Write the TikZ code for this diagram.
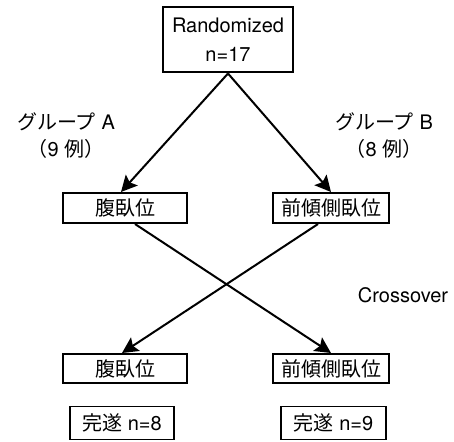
\documentclass[tikz,border=0pt]{standalone}
\usepackage{fontspec}
\setmainfont{TeX Gyre Heros}
\newfontfamily\jp{Noto Sans CJK JP}
\usetikzlibrary{arrows.meta}
\begin{document}
\begin{tikzpicture}[x=1pt,y=-1pt,
  box/.style={draw, line width=2pt, inner sep=0pt, align=center,
    font=\fontsize{20}{29}\selectfont},
  donebox/.style={draw, line width=1.5pt, inner sep=0pt, align=center,
    font=\fontsize{20}{29}\selectfont},
  lbl/.style={inner sep=0pt, align=center, font=\fontsize{20}{27}\selectfont},
  arr/.style={line width=2pt, -{Stealth[length=16pt,width=16pt,inset=3pt]}}]
\useasboundingbox (0,0) rectangle (454,441);
\node[box, minimum width=130pt, minimum height=65pt] (top) at (228,40) {Randomized\\n=17};
\node[box, minimum width=124pt, minimum height=30pt] (midL) at (125,208) {\jp 腹臥位};
\node[box, minimum width=116pt, minimum height=30pt] (midR) at (331,208) {\jp 前傾側臥位};
\node[box, minimum width=124pt, minimum height=29pt] (botL) at (125,368.5) {\jp 腹臥位};
\node[box, minimum width=116pt, minimum height=29pt] (botR) at (331,368.5) {\jp 前傾側臥位};
\node[donebox, minimum width=104pt, minimum height=33pt] (doneL) at (122,423) {{\jp 完遂} n=8};
\node[donebox, minimum width=105pt, minimum height=33pt] (doneR) at (333.5,423) {{\jp 完遂} n=9};
\node[lbl] (grpA) at (66,136) {{\jp グループ} A\\{\jp （}9 {\jp 例）}};
\node[lbl] (grpB) at (384,136) {{\jp グループ} B\\{\jp （}8 {\jp 例）}};
\node[lbl] (cross) at (403,295) {Crossover};
\draw[arr] (top.south) -- ([xshift=-4pt]midL.north);
\draw[arr] (top.south) -- (midR.north);
\draw[arr] ([xshift=10pt]midL.south) -- (botR.north);
\draw[arr] ([xshift=-13pt]midR.south) -- ([xshift=-3pt]botL.north);
\end{tikzpicture}
\end{document}
